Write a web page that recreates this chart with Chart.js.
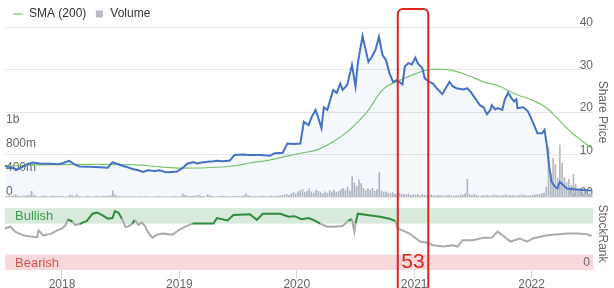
<!DOCTYPE html>
<html>
<head>
<meta charset="utf-8">
<script src="https://cdn.jsdelivr.net/npm/chart.js@4.4.1/dist/chart.umd.min.js"></script>
<style>
  html, body { margin: 0; padding: 0; background: #fff; }
</style>
</head>
<body>
<canvas id="grafico" width="614" height="288"></canvas>
<script>
// Share price (decimal years -> price)
const priceDates = [2017.51, 2017.56, 2017.62, 2017.67, 2017.71, 2017.75, 2017.81, 2017.90, 2017.97, 2018.01,
  2018.06, 2018.11, 2018.15, 2018.24, 2018.32, 2018.39, 2018.43, 2018.48, 2018.52, 2018.56,
  2018.60, 2018.65, 2018.69, 2018.73, 2018.79, 2018.83, 2018.89, 2018.94, 2018.98, 2019.03,
  2019.07, 2019.12, 2019.15, 2019.19, 2019.24, 2019.29, 2019.32, 2019.37, 2019.43, 2019.47,
  2019.54, 2019.60, 2019.69, 2019.77, 2019.81, 2019.88, 2019.92, 2019.97, 2020.03, 2020.06,
  2020.10, 2020.13, 2020.16, 2020.18, 2020.21, 2020.23, 2020.26, 2020.31, 2020.34, 2020.37,
  2020.39, 2020.43, 2020.47, 2020.50, 2020.52, 2020.56, 2020.61, 2020.64, 2020.67, 2020.70,
  2020.73, 2020.76, 2020.79, 2020.82, 2020.85, 2020.90, 2020.92, 2020.95, 2020.98, 2021.01,
  2021.03, 2021.07, 2021.09, 2021.13, 2021.16, 2021.19, 2021.24, 2021.26, 2021.30, 2021.33,
  2021.36, 2021.42, 2021.45, 2021.48, 2021.52, 2021.56, 2021.59, 2021.62, 2021.65, 2021.66,
  2021.69, 2021.71, 2021.75, 2021.77, 2021.80, 2021.83, 2021.85, 2021.87, 2021.88, 2021.93,
  2021.97, 2022.01, 2022.05, 2022.09, 2022.11, 2022.13, 2022.15, 2022.17, 2022.20, 2022.22,
  2022.24, 2022.27, 2022.30, 2022.35, 2022.44, 2022.51];
const priceValues = [7.3, 7.0, 6.5, 7.2, 7.8, 8.1, 7.9, 7.8, 7.7, 8.0,
  8.5, 7.6, 7.2, 7.1, 7.0, 6.9, 8.2, 7.7, 7.3, 7.0,
  6.6, 6.3, 5.9, 6.3, 6.1, 6.3, 5.8, 5.9, 6.0, 6.9,
  7.9, 8.2, 7.9, 8.1, 8.3, 8.4, 8.5, 8.4, 8.6, 9.9,
  10.0, 9.9, 9.9, 9.7, 10.3, 10.4, 12.6, 12.5, 12.6, 17.7,
  16.9, 19.0, 20.5, 18.9, 16.2, 21.1, 20.5, 25.2, 24.5, 26.7,
  25.2, 26.4, 31.1, 26.0, 31.5, 37.9, 31.8, 33.0, 34.6, 37.7,
  33.4, 32.2, 29.1, 27.1, 27.5, 26.5, 30.7, 31.5, 31.2, 32.8,
  31.5, 30.3, 27.9, 27.1, 26.7, 25.6, 24.2, 25.2, 27.1, 26.0,
  25.6, 25.3, 25.6, 24.8, 23.2, 21.6, 21.1, 19.5, 20.5, 21.6,
  20.6, 20.9, 20.5, 22.8, 24.5, 23.2, 22.5, 23.0, 20.9, 21.1,
  20.1, 17.7, 15.0, 15.0, 15.8, 12.2, 7.1, 3.6, 2.4, 2.0,
  3.6, 2.8, 2.0, 1.8, 1.65, 1.5];

// SMA (200)
const smaDates = [2017.51, 2017.90, 2018.32, 2018.60, 2018.75, 2019.03, 2019.32, 2019.46, 2019.60, 2019.75,
  2019.88, 2020.03, 2020.17, 2020.31, 2020.45, 2020.60, 2020.73, 2020.88, 2021.02, 2021.11,
  2021.19, 2021.30, 2021.45, 2021.59, 2021.73, 2021.88, 2022.01, 2022.13, 2022.22, 2022.33,
  2022.44, 2022.51];
const smaValues = [7.3, 7.6, 7.7, 7.6, 7.3, 6.8, 7.0, 7.3, 8.0, 8.6,
  9.4, 10.3, 11.1, 13.0, 15.8, 20.1, 25.2, 27.5, 29.1, 29.9,
  30.1, 29.9, 28.7, 27.1, 26.0, 24.0, 22.8, 20.9, 18.5, 15.4,
  13.0, 11.5];

// StockRank
const rankDates = [2017.51, 2017.56, 2017.60, 2017.67, 2017.73, 2017.79, 2017.80, 2017.84, 2017.90, 2017.96,
  2018.00, 2018.03, 2018.05, 2018.09, 2018.11, 2018.15, 2018.18, 2018.21, 2018.26, 2018.30,
  2018.35, 2018.39, 2018.43, 2018.45, 2018.48, 2018.51, 2018.54, 2018.56, 2018.60, 2018.62,
  2018.65, 2018.68, 2018.71, 2018.73, 2018.77, 2018.81, 2018.86, 2018.94, 2018.99, 2019.05,
  2019.11, 2019.29, 2019.32, 2019.41, 2019.46, 2019.60, 2019.66, 2019.71, 2019.86, 2019.93,
  2019.98, 2020.04, 2020.10, 2020.14, 2020.20, 2020.26, 2020.31, 2020.39, 2020.44, 2020.47,
  2020.49, 2020.50, 2020.52, 2020.60, 2020.71, 2020.79, 2020.84, 2020.86, 2020.90, 2020.96,
  2021.05, 2021.11, 2021.16, 2021.25, 2021.33, 2021.37, 2021.41, 2021.50, 2021.59, 2021.66,
  2021.71, 2021.76, 2021.82, 2021.90, 2021.96, 2022.01, 2022.13, 2022.30, 2022.39, 2022.47,
  2022.51];
const rankValues = [67, 70, 62, 56, 54, 53, 64, 56, 58, 64,
  67, 73, 82, 78, 73, 74, 77, 79, 91, 93,
  88, 83, 84, 95, 93, 83, 70, 70, 75, 81,
  73, 77, 70, 62, 52, 57, 59, 57, 64, 70,
  75, 75, 84, 80, 89, 90, 81, 91, 91, 86,
  87, 82, 84, 81, 75, 70, 70, 71, 80, 82,
  62, 75, 91, 89, 86, 83, 79, 67, 64, 59,
  46, 44, 40, 38, 40, 38, 48, 48, 52, 52,
  62, 55, 46, 51, 46, 51, 56, 59, 59, 58,
  55];

// Weekly volume in millions, first week at volumeStart
const volumeStart = 2017.51;
const volumeMillions = [
  20, 15, 25, 18, 30, 45, 20, 15, 22, 18, 25, 30, 100, 35, 20, 15, 18, 25, 20, 15, 12, 18, 22, 15, 20, 18,
  15, 12, 18, 40, 30, 20, 45, 15, 12, 10, 15, 20, 12, 10, 15, 18, 12, 15, 20, 18, 25, 30, 110, 40, 20, 15,
  12, 10, 15, 10, 12, 15, 10, 8, 12, 10, 15, 12, 10, 8, 10, 12, 15, 10, 12, 10, 8, 10, 12, 15, 12, 10,
  20, 60, 35, 20, 15, 18, 20, 25, 40, 20, 15, 12, 50, 30, 20, 15, 12, 15, 18, 20, 15, 12, 10, 15, 20, 18,
  15, 20, 25, 60, 30, 20, 15, 12, 15, 18, 20, 15, 12, 15, 20, 18, 15, 25, 20, 30, 40, 50, 35, 60, 80, 55,
  90, 110, 130, 80, 100, 140, 90, 70, 120, 100, 80, 60, 90, 70, 110, 90, 120, 80, 100, 130, 150, 120, 170, 110, 340, 240,
  180, 290, 230, 150, 110, 140, 120, 150, 100, 130, 420, 110, 80, 90, 70, 60, 80, 50, 60, 70, 45, 50, 40, 55, 35, 40,
  40, 50, 30, 45, 35, 30, 25, 40, 30, 25, 35, 30, 20, 25, 30, 35, 25, 20, 30, 25, 40, 35, 60, 300, 45, 30,
  50, 30, 25, 20, 30, 25, 35, 20, 25, 40, 30, 25, 20, 30, 45, 25, 30, 35, 25, 20, 30, 40, 35, 30, 25, 30,
  35, 40, 50, 45, 60, 70, 170, 840, 400, 650, 550, 320, 870, 570, 330, 250, 300, 200, 380, 220, 130, 150, 170, 90, 80, 60,
  50];

const yearTicks = [2018, 2019, 2020, 2021, 2022];
const volumeTicks = [0, 400e6, 800e6, 1200e6];
const priceTicks = [0, 10, 20, 30, 40];

// StockRank bands
const bandNames = ['Bullish', 'Bearish'];
const bandRanges = [[75, 100], [0, 25]];

// highlighted period and its rank
const highlightRange = [2020.86, 2021.12];
const highlightRank = 53;

const RED = '#e2231a';
const FONT = '"Liberation Sans", Arial, sans-serif';

Chart.defaults.font.family = FONT;
Chart.defaults.font.size = 12;
Chart.defaults.color = '#666';

// bands behind the StockRank line (drawn before the axes so the "0" label stays on top)
const bandsPlugin = {
  id: 'bands',
  beforeDraw(chart) {
    const {ctx, chartArea: a, scales: {rank}} = chart;
    const fills = ['#d7eadb', '#f7d9dc'];
    const texts = ['#3a9a4b', '#d9534f'];
    ctx.save();
    bandRanges.forEach((r, i) => {
      const y0 = rank.getPixelForValue(r[1]);
      const y1 = rank.getPixelForValue(r[0]);
      ctx.fillStyle = fills[i];
      ctx.fillRect(a.left, y0, a.right - a.left, y1 - y0);
      ctx.fillStyle = texts[i];
      ctx.font = '13px ' + FONT;
      ctx.textBaseline = 'middle';
      ctx.textAlign = 'left';
      ctx.fillText(bandNames[i], a.left + 10, (y0 + y1) / 2 + 1);
    });
    ctx.restore();
  }
};

// red box round the highlighted period
const highlightPlugin = {
  id: 'highlight',
  afterDraw(chart) {
    const {ctx, chartArea: a, scales: {x, rank}} = chart;
    const x0 = x.getPixelForValue(highlightRange[0]);
    const x1 = x.getPixelForValue(highlightRange[1]);
    const top = a.top - 18, bottom = chart.height + 10, r = 5;
    ctx.save();
    ctx.strokeStyle = RED;
    ctx.lineWidth = 2;
    ctx.beginPath();
    ctx.moveTo(x0, bottom);
    ctx.lineTo(x0, top + r);
    ctx.arcTo(x0, top, x0 + r, top, r);
    ctx.lineTo(x1 - r, top);
    ctx.arcTo(x1, top, x1, top + r, r);
    ctx.lineTo(x1, bottom);
    ctx.stroke();
    ctx.fillStyle = RED;
    ctx.font = '21px ' + FONT;
    ctx.textAlign = 'center';
    ctx.textBaseline = 'middle';
    ctx.fillText(String(highlightRank), (x0 + x1) / 2, rank.getPixelForValue(12.5));
    ctx.restore();
  }
};

const ctx = document.getElementById('grafico').getContext('2d');

new Chart(ctx, {
  type: 'line',
  data: {
    datasets: [
      {
        label: 'Share Price',
        data: priceDates.map((d, i) => ({x: d, y: priceValues[i]})),
        yAxisID: 'price',
        borderColor: '#4572c4',
        borderWidth: 2,
        backgroundColor: 'rgba(69,114,196,0.06)',
        fill: 'origin',
        pointRadius: 0,
        tension: 0,
        order: 0
      },
      {
        label: 'SMA (200)',
        data: smaDates.map((d, i) => ({x: d, y: smaValues[i]})),
        yAxisID: 'price',
        borderColor: '#7cc46d',
        backgroundColor: '#7cc46d',
        borderWidth: 1.2,
        pointRadius: 0,
        pointStyle: 'line',
        cubicInterpolationMode: 'monotone',
        order: 1
      },
      {
        type: 'bar',
        label: 'Volume',
        data: volumeMillions.map((v, i) => ({x: volumeStart + i / 52, y: v * 1e6})),
        yAxisID: 'vol',
        backgroundColor: '#b6bac2',
        pointStyle: 'rect',
        categoryPercentage: 1,
        barPercentage: 0.75,
        order: 2
      },
      {
        label: 'StockRank',
        data: rankDates.map((d, i) => ({x: d, y: rankValues[i]})),
        yAxisID: 'rank',
        borderColor: '#aaaaaa',
        borderWidth: 2,
        pointRadius: 0,
        tension: 0,
        segment: {
          borderColor: s => (s.p0.parsed.y >= 74 && s.p1.parsed.y >= 74) ? '#2e8b3c' : '#aaaaaa'
        },
        order: 0
      }
    ]
  },
  options: {
    responsive: false,
    animation: false,
    events: [],
    layout: {padding: {left: 5, right: 0, top: 0, bottom: 0}},
    plugins: {
      tooltip: {enabled: false},
      legend: {
        position: 'top',
        align: 'start',
        maxHeight: 27,
        labels: {
          filter: item => item.text === 'SMA (200)' || item.text === 'Volume',
          usePointStyle: true,
          boxWidth: 10,
          boxHeight: 7,
          padding: 8,
          color: '#333',
          font: {size: 12}
        }
      }
    },
    scales: {
      x: {
        type: 'linear',
        offset: false,
        min: 2017.5145,
        max: 2022.523,
        afterBuildTicks: s => { s.ticks = yearTicks.map(v => ({value: v})); },
        afterFit: s => { s.height = 18; },
        grid: {display: true, offset: false, drawOnChartArea: false, drawTicks: true, tickLength: 8, color: '#d6d6d6'},
        border: {display: false},
        ticks: {callback: v => String(v), padding: 1, font: {size: 12, lineHeight: 1}, maxRotation: 0}
      },
      vol: {
        type: 'linear',
        position: 'left',
        min: -1216.67e6,
        max: 2833.33e6,
        afterBuildTicks: s => { s.ticks = volumeTicks.map(v => ({value: v})); },
        afterFit: s => { s.width = 0; },
        grid: {display: false, drawTicks: false},
        border: {display: false},
        ticks: {
          mirror: true,
          padding: 1,
          labelOffset: -5,
          callback: v => v >= 1e9 ? Math.floor(v / 1e9) + 'b' : (v > 0 ? (v / 1e6) + 'm' : '0')
        }
      },
      price: {
        type: 'linear',
        position: 'right',
        stack: 'R',
        stackWeight: 170,
        weight: 0,
        min: 0,
        max: 40,
        afterBuildTicks: s => { s.ticks = priceTicks.map(v => ({value: v})); },
        afterFit: s => { s.width = 21; },
        grid: {color: '#e6e6e6', drawTicks: false},
        border: {display: false},
        title: {display: true, text: 'Share Price', color: '#666', font: {size: 12}, padding: {top: 4, bottom: 0}},
        ticks: {
          mirror: true,
          padding: 0,
          labelOffset: -4,
          callback: v => v === 0 ? '0.00' : String(v)
        }
      },
      rank: {
        type: 'linear',
        position: 'right',
        stack: 'R',
        stackWeight: 73,
        weight: 1,
        min: 0,
        max: 118,
        afterBuildTicks: s => { s.ticks = [{value: 0}]; },
        afterFit: s => { s.width = 21; },
        grid: {display: false, drawTicks: false},
        border: {display: false},
        title: {display: true, text: 'StockRank', color: '#666', font: {size: 12}, padding: {top: 4, bottom: 0}},
        ticks: {
          mirror: true,
          padding: -3,
          labelOffset: -7,
          callback: v => String(v)
        }
      }
    }
  },
  plugins: [bandsPlugin, highlightPlugin]
});
</script>
</body>
</html>
